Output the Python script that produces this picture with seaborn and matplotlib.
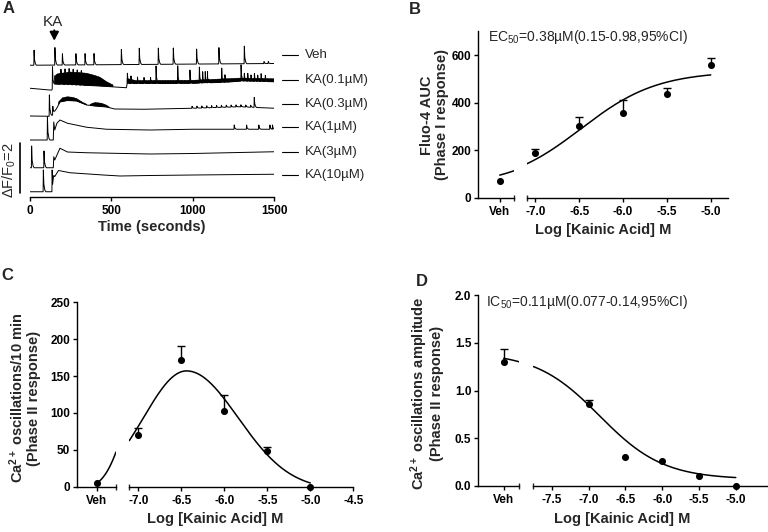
import numpy as np
import pandas as pd
import matplotlib
matplotlib.use("Agg")
import matplotlib.pyplot as plt
import seaborn as sns

# ======================= DATA =======================
# ---- Panel A: Fluo-4 traces (time in s, stacked dF/F0 units) ----
trace_labels = ["Veh", "KA(0.1\u00b5M)", "KA(0.3\u00b5M)", "KA(1\u00b5M)", "KA(3\u00b5M)", "KA(10\u00b5M)"]
label_level = [5.68, 4.68, 3.72, 2.79, 1.81, 0.88]

veh_base_t = [0, 1500]
veh_base_y = [5.27, 5.34]
veh_spike_t = [25, 153, 199, 282, 338, 393, 561, 671, 788, 880, 1023, 1160, 1316, 1437, 1463]
veh_spike_h = [0.6, 0.7, 0.45, 0.45, 0.45, 0.45, 0.6, 0.65, 0.65, 0.65, 0.6, 0.65, 0.7, 0.08, 0.08]

ka01_base_t = [0, 120, 134, 150, 300, 430, 592, 596, 800, 1000, 1200, 1300, 1500]
ka01_base_y = [4.35, 4.28, 4.28, 4.52, 4.48, 4.44, 4.37, 4.54, 4.54, 4.55, 4.59, 4.64, 4.61]
ka01_spike_t = [138, 598, 620, 660, 700, 740, 774, 907, 982, 1040, 1060, 1076, 1090, 1177, 1197,
                1296, 1316, 1337, 1357, 1378, 1398, 1419, 1445,
                190, 215, 240, 265, 290, 315]
ka01_spike_h = [0.87, 0.41, 0.3, 0.26, 0.24, 0.24, 0.7, 0.7, 0.53, 0.64, 0.45, 0.45, 0.45, 0.57, 0.3,
                0.65, 0.31, 0.31, 0.25, 0.31, 0.25, 0.31, 0.25,
                0.6, 0.62, 0.64, 0.62, 0.6, 0.58]
ka01_burst1_top_t = [150, 170, 246, 300, 348, 400, 430, 471, 510]
ka01_burst1_top_y = [4.84, 4.93, 5.0, 4.98, 4.95, 4.86, 4.79, 4.61, 4.48]
ka01_burst1_bot_t = [510, 430, 300, 150]
ka01_burst1_bot_y = [4.41, 4.44, 4.48, 4.52]
ka01_burst2_top_t = [596, 650, 1000, 1300, 1500]
ka01_burst2_top_y = [4.74, 4.66, 4.67, 4.76, 4.73]
ka01_burst2_bot_t = [1500, 1300, 1200, 1000, 800, 596]
ka01_burst2_bot_y = [4.61, 4.64, 4.59, 4.55, 4.54, 4.54]

ka03_base_t = [0, 112, 117, 140, 150, 165, 184, 230, 286, 348, 400, 471, 520, 700, 1000, 1289, 1500]
ka03_base_y = [3.24, 3.23, 3.23, 3.28, 3.41, 3.56, 3.80, 3.86, 3.84, 3.68, 3.64, 3.60, 3.52, 3.51, 3.55, 3.61, 3.55]
ka03_spike_t = [119, 140, 995, 1025, 1055, 1085, 1115, 1145, 1175, 1205, 1235, 1265, 1295, 1325, 1355, 1377]
ka03_spike_h = [0.85, 0.35, 0.08, 0.08, 0.08, 0.08, 0.08, 0.08, 0.08, 0.08, 0.08, 0.08, 0.08, 0.08, 0.08, 0.4]
ka03_burst1_top_t = [175, 200, 230, 260, 286, 320, 348]
ka03_burst1_top_y = [3.80, 3.97, 4.01, 3.99, 3.94, 3.80, 3.71]
ka03_burst1_bot_t = [348, 286, 230, 184, 175]
ka03_burst1_bot_y = [3.68, 3.84, 3.86, 3.80, 3.69]
ka03_burst2_top_t = [368, 380, 400, 440, 471, 490]
ka03_burst2_top_y = [3.69, 3.74, 3.78, 3.75, 3.67, 3.58]
ka03_burst2_bot_t = [490, 471, 400, 368]
ka03_burst2_bot_y = [3.57, 3.60, 3.64, 3.66]

ka1_base_t = [0, 143, 146, 152, 165, 184, 230, 348, 470, 737, 1000, 1500]
ka1_base_y = [2.28, 2.28, 3.0, 2.68, 2.95, 3.08, 2.95, 2.79, 2.71, 2.68, 2.71, 2.71]
ka1_spike_t = [107, 1254, 1330, 1405, 1473, 1489]
ka1_spike_h = [0.93, 0.17, 0.17, 0.17, 0.17, 0.17]

ka3_base_t = [0, 143, 146, 152, 184, 230, 348, 737, 1000, 1500]
ka3_base_y = [1.17, 1.17, 1.61, 1.48, 1.95, 1.80, 1.77, 1.72, 1.74, 1.81]
ka3_spike_t = [10, 86]
ka3_spike_h = [0.87, 0.67]

ka10_base_t = [0, 140, 146, 152, 175, 246, 450, 553, 737, 1000, 1500]
ka10_base_y = [0.21, 0.21, 0.90, 0.82, 1.06, 0.97, 0.88, 0.84, 0.86, 0.88, 0.91]
ka10_spike_t = [82, 136]
ka10_spike_h = [0.87, 0.87]

time_ticks = [0, 500, 1000, 1500]

# ---- Panels B-D: dose response ----
log_doses = [-7.0, -6.5, -6.0, -5.5, -5.0]

b_veh_mean, b_veh_sem = 73, 0
b_mean = [189, 304, 359, 439, 561]
b_sem = [17, 35, 51, 23, 29]
b_fit = dict(bottom=50, top=533, logec50=-6.48, hill=1.0)

c_veh_mean, c_veh_sem = 4.5, 0
c_mean = [70, 172, 102.5, 49, 0]
c_sem = [9, 19, 21.5, 4.5, 0]
c_fit = dict(amp=161, center=-6.44, sd_left=0.5, sd_right=0.6, base=-4)

d_veh_mean, d_veh_sem = 1.30, 0.13
d_mean = [0.855, 0.30, 0.26, 0.105, 0.0]
d_sem = [0.05, 0, 0, 0, 0]
d_fit = dict(bottom=0.07, top=1.40, logic50=-6.85, hill=1.0)

# ======================= STYLE =======================
sns.set_theme(style="ticks")
plt.rcParams["font.family"] = ["Liberation Sans", "DejaVu Sans"]
plt.rcParams["mathtext.fontset"] = "custom"
plt.rcParams["mathtext.rm"] = "Liberation Sans"
plt.rcParams["mathtext.it"] = "Liberation Sans:italic"
plt.rcParams["mathtext.bf"] = "Liberation Sans:bold"
plt.rcParams["axes.unicode_minus"] = False
plt.rcParams["axes.linewidth"] = 1.0
plt.rcParams["axes.edgecolor"] = "black"

FW, FH = 768, 532
fig = plt.figure(figsize=(FW / 100, FH / 100), dpi=100)
fig.patch.set_facecolor("white")


def px_axes(l, r, top, bottom):
    return fig.add_axes([l / FW, 1 - bottom / FH, (r - l) / FW, (bottom - top) / FH])


def ftext(x, y, s, **kw):
    fig.text(x / FW, 1 - y / FH, s, **kw)


TICK_FS = 8.5
LAB_FS = 10.5

# ======================= PANEL A =======================
SPIKE_SHAPE = [(-1.5, 0.0), (0.0, 1.0), (3.0, 0.35), (9.0, 0.08), (15.0, 0.0)]


def trace_xy(bt, by, st, sh):
    bt = np.asarray(bt, float)
    by = np.asarray(by, float)
    keep = np.ones(len(bt), bool)
    for t in st:
        keep &= ~((bt > t - 1.5) & (bt < t + 15))
    xs = list(bt[keep])
    ys = list(by[keep])
    for t, h in zip(st, sh):
        for dt, f in SPIKE_SHAPE:
            xs.append(t + dt)
            ys.append(np.interp(t + dt, bt, by) + f * h)
    xs = np.asarray(xs)
    ys = np.asarray(ys)
    o = np.argsort(xs, kind="stable")
    return xs[o], ys[o]


axA = px_axes(30, 274.3, 40, 197)
axA.set_xlim(0, 1500)
axA.set_ylim(0, 6.28)
axA.patch.set_visible(False)
for s in ["top", "right", "left"]:
    axA.spines[s].set_visible(False)
axA.set_yticks([])
axA.set_xticks(time_ticks, [str(v) for v in time_ticks], fontsize=TICK_FS, fontweight="bold")
axA.tick_params(axis="x", direction="out", length=3, width=1.0, pad=3, colors="black")

traces = [
    (veh_base_t, veh_base_y, veh_spike_t, veh_spike_h),
    (ka01_base_t, ka01_base_y, ka01_spike_t, ka01_spike_h),
    (ka03_base_t, ka03_base_y, ka03_spike_t, ka03_spike_h),
    (ka1_base_t, ka1_base_y, ka1_spike_t, ka1_spike_h),
    (ka3_base_t, ka3_base_y, ka3_spike_t, ka3_spike_h),
    (ka10_base_t, ka10_base_y, ka10_spike_t, ka10_spike_h),
]
for bt, by, st, sh in traces:
    tx, ty = trace_xy(bt, by, st, sh)
    sns.lineplot(x=tx, y=ty, ax=axA, sort=False, estimator=None, color="black", lw=0.7)

bursts = [
    (ka01_burst1_top_t, ka01_burst1_top_y, ka01_burst1_bot_t, ka01_burst1_bot_y),
    (ka01_burst2_top_t, ka01_burst2_top_y, ka01_burst2_bot_t, ka01_burst2_bot_y),
    (ka03_burst1_top_t, ka03_burst1_top_y, ka03_burst1_bot_t, ka03_burst1_bot_y),
    (ka03_burst2_top_t, ka03_burst2_top_y, ka03_burst2_bot_t, ka03_burst2_bot_y),
]
for tt, ty, bt, byy in bursts:
    axA.fill(np.r_[tt, bt], np.r_[ty, byy], facecolor="black", edgecolor="black", lw=0.3,
             hatch="||||||")

# trace labels
sec_per_px = 1500 / 244.3
for lab, lev in zip(trace_labels, label_level):
    axA.plot([(281.7 - 30) * sec_per_px, (298.3 - 30) * sec_per_px], [lev, lev],
             color="black", lw=0.8, clip_on=False)
    axA.text((305 - 30) * sec_per_px, lev, lab, ha="left", va="center", fontsize=9.5, clip_on=False)

# scale bar dF/F0 = 2
axA.plot([(20 - 30) * sec_per_px] * 2, [0.16, 2.16], color="black", lw=1.2, clip_on=False)
ftext(9, 170, r"$\Delta$F/F$_{\mathrm{0}}$=2", rotation=90, ha="center", va="center", fontsize=10.5)

# KA arrow
axA.annotate("", xy=(149, (197 - 43.5) / 25), xytext=(149, (197 - 27.5) / 25),
             arrowprops=dict(arrowstyle="-|>,head_width=0.22,head_length=0.42", color="black", lw=1.4),
             annotation_clip=False)
ftext(53, 21.5, "KA", ha="center", va="center", fontsize=11)

ftext(152, 227, "Time (seconds)", ha="center", va="center", fontsize=LAB_FS, fontweight="bold")


# ======================= DOSE PANELS =======================
def hill_up(x, p):
    return p["bottom"] + (p["top"] - p["bottom"]) / (1 + 10 ** ((p["logec50"] - x) * p["hill"]))


def hill_down(x, p):
    return p["bottom"] + (p["top"] - p["bottom"]) / (1 + 10 ** ((x - p["logic50"]) * p["hill"]))


def bell(x, p):
    sd = np.where(x < p["center"], p["sd_left"], p["sd_right"])
    return p["base"] + p["amp"] * np.exp(-0.5 * ((x - p["center"]) / sd) ** 2)


def draw_points(ax, x, y, e):
    x = np.atleast_1d(np.asarray(x, float))
    y = np.atleast_1d(np.asarray(y, float))
    e = np.atleast_1d(np.asarray(e, float))
    m = e > 0
    if m.any():
        _, caps, _ = ax.errorbar(x[m], y[m], yerr=[np.zeros(m.sum()), e[m]], fmt="none",
                                 ecolor="black", elinewidth=1.0, capsize=2.6, capthick=1.0,
                                 zorder=2, clip_on=False)
        for c in caps:
            if np.allclose(c.get_ydata(), y[m]):
                c.set_visible(False)
    sns.scatterplot(x=x, y=y, ax=ax, color="black", s=26, edgecolor="black", linewidth=0,
                    zorder=3, clip_on=False)


def dose_panel(veh_box, main_box, ylim, yticks, yticklabels, veh_xlim, veh_x, main_xlim, xticks,
               veh_mean, veh_sem, mean, sem, model):
    axv = px_axes(*veh_box)
    axm = px_axes(*main_box)
    for ax in (axv, axm):
        ax.set_ylim(*ylim)
        ax.patch.set_visible(False)
        ax.grid(False)
        ax.spines["top"].set_visible(False)
        ax.spines["right"].set_visible(False)
        ax.tick_params(axis="both", which="major", direction="out", length=3, width=1.0, pad=3,
                       colors="black")
        ax.tick_params(axis="x", which="minor", direction="inout", length=5, width=1.0, bottom=True)
    axm.spines["left"].set_visible(False)
    axm.tick_params(axis="y", left=False, labelleft=False)
    axv.set_xlim(*veh_xlim)
    axm.set_xlim(*main_xlim)
    axv.set_yticks(yticks, yticklabels, fontsize=TICK_FS, fontweight="bold")
    axv.tick_params(axis="y", pad=2)
    axv.set_xticks([veh_x], ["Veh"], fontsize=TICK_FS, fontweight="bold")
    axv.set_xticks([veh_xlim[1]], minor=True)
    axm.set_xticks(xticks, [f"{v:.1f}" for v in xticks], fontsize=TICK_FS, fontweight="bold")
    axm.set_xticks([main_xlim[0]], minor=True)
    # fitted curves
    xv = np.linspace(veh_x, veh_xlim[1], 60)
    xm = np.linspace(main_xlim[0], max(log_doses), 400)
    sns.lineplot(x=xv, y=model(xv), ax=axv, color="black", lw=1.1, sort=False, estimator=None)
    sns.lineplot(x=xm, y=model(xm), ax=axm, color="black", lw=1.1, sort=False, estimator=None)
    draw_points(axv, [veh_x], [veh_mean], [veh_sem])
    draw_points(axm, log_doses, mean, sem)
    for ax in (axv, axm):
        ax.set_xlabel("")
        ax.set_ylabel("")
    return axv, axm


# Panel B
dose_panel((478.3, 514.0, 31.5, 198.0), (526.7, 728.3, 31.5, 198.0), (0, 700),
           [0, 200, 400, 600], ["0", "200", "400", "600"],
           (-7.70, -7.292), -7.455, (-7.1, -4.8), [-7.0, -6.5, -6.0, -5.5, -5.0],
           b_veh_mean, b_veh_sem, b_mean, b_sem, lambda x: hill_up(x, b_fit))

# Panel C
dose_panel((77.0, 116.0, 302.3, 486.7), (129.3, 353.3, 302.3, 486.7), (0, 250),
           [0, 50, 100, 150, 200, 250], ["0", "50", "100", "150", "200", "250"],
           (-8.117, -7.198), -7.653, (-7.105, -4.5), [-7.0, -6.5, -6.0, -5.5, -5.0, -4.5],
           c_veh_mean, c_veh_sem, c_mean, c_sem, lambda x: bell(x, c_fit))

# Panel D
dose_panel((478.3, 519.3, 295.0, 486.0), (533.3, 766.7, 295.0, 486.0), (0, 2.0),
           [0.0, 0.5, 1.0, 1.5, 2.0], ["0.0", "0.5", "1.0", "1.5", "2.0"],
           (-8.503, -7.94), -8.154, (-7.75, -4.58), [-7.5, -7.0, -6.5, -6.0, -5.5, -5.0],
           d_veh_mean, d_veh_sem, d_mean, d_sem, lambda x: hill_down(x, d_fit))

# ---- texts ----
ftext(603, 230, "Log [Kainic Acid] M", ha="center", va="center", fontsize=LAB_FS, fontweight="bold")
ftext(215, 519, "Log [Kainic Acid] M", ha="center", va="center", fontsize=LAB_FS, fontweight="bold")
ftext(622, 519, "Log [Kainic Acid] M", ha="center", va="center", fontsize=LAB_FS, fontweight="bold")

ftext(434.5, 115, "Fluo-4 AUC\n(Phase I response)", rotation=90, ha="center", va="center",
      fontsize=LAB_FS, fontweight="bold", linespacing=1.05, multialignment="center")
ftext(24, 398, "Ca$^{\\mathbf{2+}}$ oscillations/10 min\n(Phase II response)", rotation=90,
      ha="center", va="center", fontsize=LAB_FS, fontweight="bold", linespacing=1.05,
      multialignment="center")
ftext(426, 393, "Ca$^{\\mathbf{2+}}$ oscillations amplitude\n(Phase II response)", rotation=90,
      ha="center", va="center", fontsize=LAB_FS, fontweight="bold", linespacing=1.05,
      multialignment="center")

ftext(488, 37.3, "EC$_{\\mathrm{50}}$=0.38\u00b5M(0.15-0.98,95%CI)", ha="left", va="center", fontsize=10)
ftext(485.7, 301.7, "IC$_{\\mathrm{50}}$=0.11\u00b5M(0.077-0.14,95%CI)", ha="left", va="center", fontsize=10)

for lab, (x, y) in zip("ABCD", [(8.3, 8.5), (415, 9), (7.2, 276), (422, 281)]):
    ftext(x, y, lab, ha="center", va="center", fontsize=12, fontweight="bold")

fig.savefig("out.png", dpi=100)
